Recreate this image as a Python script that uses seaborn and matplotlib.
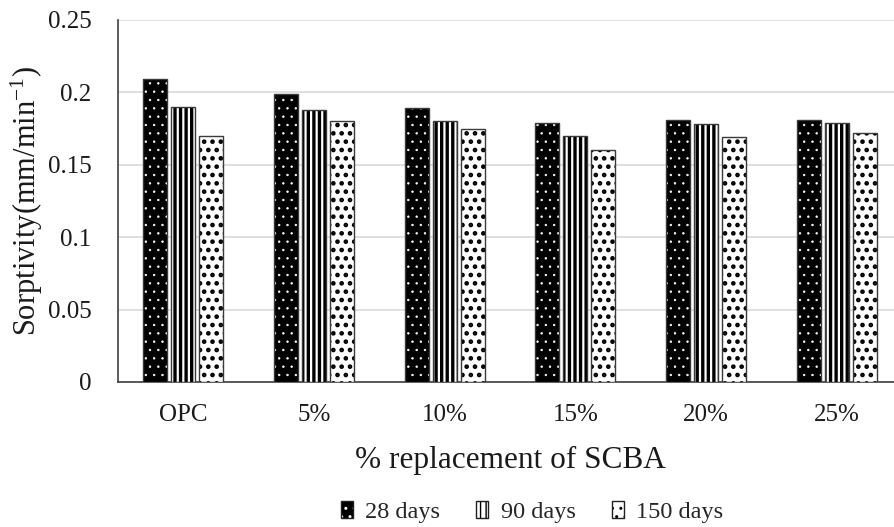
import matplotlib
matplotlib.use("Agg")
import matplotlib.pyplot as plt
from matplotlib.patches import Patch, Rectangle
from matplotlib.legend_handler import HandlerTuple
import seaborn as sns
import pandas as pd

# Sorptivity results per SCBA replacement level and curing age
mixes = ["OPC", "5%", "10%", "15%", "20%", "25%"]
ages = ["28 days", "90 days", "150 days"]
days28 = [0.209, 0.199, 0.189, 0.179, 0.181, 0.181]
days90 = [0.190, 0.188, 0.180, 0.170, 0.178, 0.179]
days150 = [0.170, 0.180, 0.175, 0.160, 0.169, 0.172]
y_ticks = [0, 0.05, 0.1, 0.15, 0.2, 0.25]
y_tick_labels = ["0", "0.05", "0.1", "0.15", "0.2", "0.25"]

df = pd.DataFrame({
    "mix": mixes * 3,
    "sorptivity": days28 + days90 + days150,
    "age": [ages[0]] * 6 + [ages[1]] * 6 + [ages[2]] * 6,
})

sns.set_theme(style="white")
plt.rcParams["font.family"] = ["Liberation Serif", "DejaVu Serif"]
plt.rcParams["mathtext.default"] = "regular"

fig = plt.figure(figsize=(8.95, 5.27), dpi=100)
ax = fig.add_axes([118 / 895, 145 / 527, 784 / 895, 362 / 527])

sns.barplot(data=df, x="mix", y="sorptivity", hue="age", order=mixes,
            hue_order=ages, palette=["black", "white", "white"],
            width=0.643, gap=0.14, edgecolor="#404040", linewidth=1.0,
            legend=False, ax=ax, zorder=3)

edge = "#3a3a3a"
styles = [
    dict(face="black", hatch_color="white", hatch="..", hlw=0.5),
    dict(face="white", hatch_color="black", hatch="|||", hlw=2.4),
    dict(face="white", hatch_color="black", hatch="..", hlw=2.1),
]


def style_patch(p, st):
    p.set_facecolor(st["face"])
    p.set_edgecolor(st["hatch_color"])
    p.set_hatch(st["hatch"])
    p.set_linewidth(0)
    if hasattr(p, "set_hatch_linewidth"):
        p.set_hatch_linewidth(st["hlw"])
    else:
        p._hatch_linewidth = st["hlw"]


for cont, st in zip(ax.containers, styles):
    for bar in cont:
        style_patch(bar, st)
        x, y = bar.get_xy()
        ax.add_patch(Rectangle((x, y), bar.get_width(), bar.get_height(),
                               fill=False, edgecolor=edge, linewidth=1.0,
                               zorder=4))

ax.set_ylim(0, 0.25)
ax.set_yticks(y_ticks)
ax.set_yticklabels(y_tick_labels)
ax.yaxis.grid(True, color="#d9d9d9", linewidth=1.2, zorder=0)
ax.set_axisbelow(True)
for side in ["top", "right"]:
    ax.spines[side].set_visible(False)
for side in ["left", "bottom"]:
    ax.spines[side].set_color("#404040")
    ax.spines[side].set_linewidth(1.2)

ax.tick_params(axis="both", labelsize=18, length=0, colors="#1a1a1a")
ax.tick_params(axis="x", pad=16)
ax.tick_params(axis="y", pad=19)
ax.set_xlabel("% replacement of SCBA", fontsize=22.5, labelpad=14, color="#1a1a1a")
ax.set_ylabel("Sorptivity(mm/min$^{-1}$)", fontsize=22, labelpad=2, color="#1a1a1a")

handles = []
for st, lab in zip(styles, ages):
    fill = Patch()
    style_patch(fill, dict(st, hlw=min(st["hlw"], 1.6)))
    outline = Patch(facecolor="none", edgecolor="#202020", linewidth=1.0)
    handles.append((fill, outline))
fig.legend(handles=handles, labels=ages, handler_map={tuple: HandlerTuple(ndivide=1, pad=0)},
           loc="center", bbox_to_anchor=(532 / 895, 1 - 512 / 527),
           ncol=3, frameon=False, fontsize=17.5, handlelength=0.5, handleheight=0.7,
           handletextpad=0.5, columnspacing=1.5)

fig.savefig("out.png", dpi=100)
